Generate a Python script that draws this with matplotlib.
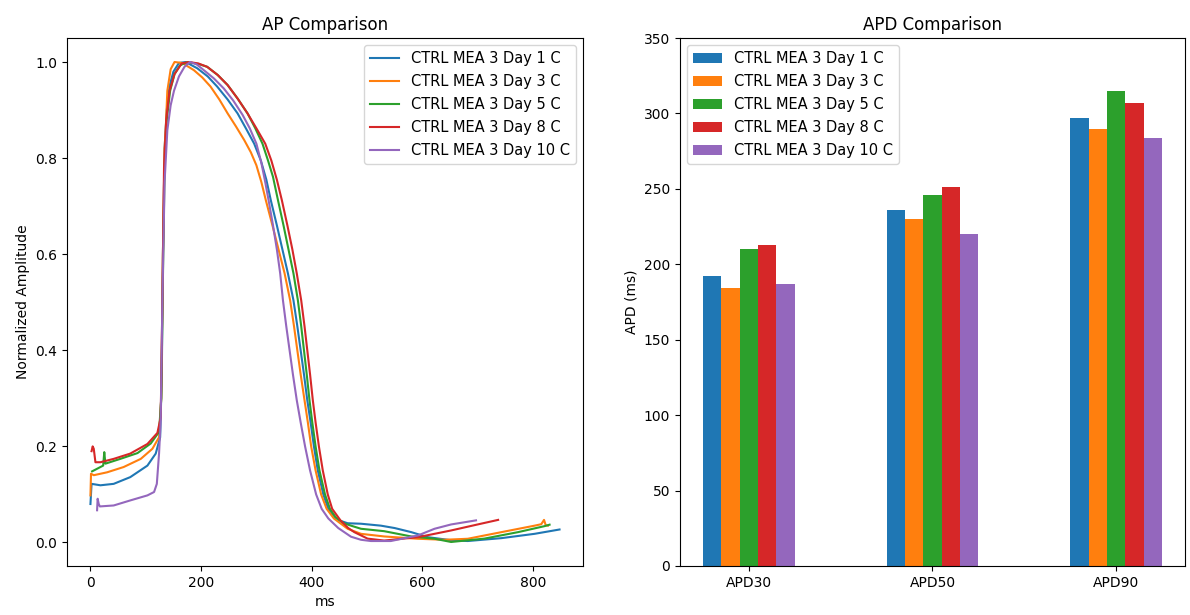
import numpy as np
import matplotlib
matplotlib.use("Agg")
import matplotlib.pyplot as plt

labels = ["CTRL MEA 3 Day 1 C", "CTRL MEA 3 Day 3 C", "CTRL MEA 3 Day 5 C",
          "CTRL MEA 3 Day 8 C", "CTRL MEA 3 Day 10 C"]

# Normalized action potential traces (time in ms, amplitude 0..1)
day1_t = [0, 2, 18, 42, 72, 103, 118, 126, 129, 131, 134, 138, 143, 150, 160, 172,
          193, 212, 229, 248, 266, 281, 296, 308, 318, 326, 337, 347, 357, 367, 374,
          380, 386, 392, 398, 404, 411, 421, 430, 440, 452, 465, 489, 525, 550, 580,
          610, 650, 682, 743, 803, 848]
day1_v = [0.08, 0.122, 0.119, 0.122, 0.136, 0.16, 0.185, 0.219, 0.35, 0.6, 0.82, 0.9,
          0.95, 0.98, 0.998, 1.0, 0.987, 0.97, 0.949, 0.922, 0.893, 0.862, 0.83, 0.795,
          0.755, 0.7125, 0.66, 0.61, 0.56, 0.504, 0.45, 0.4, 0.35, 0.296, 0.25, 0.2,
          0.15, 0.1, 0.07, 0.053, 0.045, 0.04, 0.039, 0.035, 0.03, 0.0215, 0.011,
          0.005, 0.003, 0.009, 0.018, 0.027]

day3_t = [0, 1, 6, 30, 60, 91, 112, 124, 128, 131, 134, 136, 139, 145, 152, 166, 187,
          202, 217, 233, 248, 263, 278, 290, 300, 309, 317, 329, 340, 351, 361, 368,
          374, 380, 387, 393, 399, 407, 417, 427, 440, 465, 489, 531, 592, 640, 682,
          743, 803, 815, 820, 823, 827]
day3_v = [0.098, 0.143, 0.14, 0.146, 0.157, 0.174, 0.195, 0.219, 0.3, 0.6, 0.82, 0.858,
          0.94, 0.985, 1.0, 0.998, 0.983, 0.968, 0.949, 0.922, 0.893, 0.866, 0.8375,
          0.812, 0.785, 0.75, 0.7125, 0.66, 0.61, 0.56, 0.504, 0.45, 0.4, 0.35, 0.296,
          0.25, 0.2, 0.15, 0.1, 0.07, 0.05, 0.0285, 0.018, 0.0125, 0.0077, 0.0056,
          0.0077, 0.0215, 0.035, 0.038, 0.047, 0.036, 0.035]

day5_t = [3, 18, 23, 25, 27, 54, 85, 109, 124, 128, 131, 134, 138, 144, 152, 162, 175,
          195, 211, 230, 248, 266, 284, 298, 311, 321, 330, 339, 349, 358, 367, 375,
          381, 386, 391, 396, 401, 407, 414, 424, 433, 443, 458, 471, 489, 531, 580,
          621, 652, 712, 773, 821, 830]
day5_v = [0.148, 0.157, 0.16, 0.188, 0.164, 0.174, 0.186, 0.206, 0.23, 0.3, 0.55, 0.78,
          0.88, 0.94, 0.975, 0.993, 1.0, 0.996, 0.99, 0.973, 0.952, 0.924, 0.893, 0.862,
          0.83, 0.795, 0.761, 0.7125, 0.66, 0.61, 0.56, 0.504, 0.45, 0.4, 0.35, 0.296,
          0.25, 0.2, 0.15, 0.1, 0.07, 0.053, 0.04, 0.035, 0.0285, 0.0235, 0.0125, 0.008,
          0.001, 0.008, 0.0215, 0.034, 0.037]

day8_t = [2, 4, 6, 9, 18, 42, 72, 103, 121, 127, 130, 133, 137, 143, 152, 165, 178,
          195, 211, 230, 248, 266, 284, 300, 316, 327, 337, 346, 356, 365, 373, 381,
          387, 392, 397, 402, 407, 413, 420, 429, 437, 452, 466, 477, 501, 531, 592,
          652, 700, 737]
day8_v = [0.19, 0.2, 0.195, 0.167, 0.167, 0.174, 0.185, 0.205, 0.228, 0.26, 0.5, 0.78,
          0.88, 0.94, 0.975, 0.997, 1.0, 0.997, 0.99, 0.973, 0.952, 0.924, 0.893, 0.862,
          0.83, 0.795, 0.755, 0.7125, 0.66, 0.61, 0.56, 0.504, 0.45, 0.4, 0.35, 0.296,
          0.25, 0.2, 0.15, 0.1, 0.07, 0.046, 0.03, 0.0215, 0.008, 0.004, 0.011, 0.025,
          0.0375, 0.047]

day10_t = [12, 13, 15, 17, 42, 72, 103, 115, 120, 124, 127, 130, 134, 139, 145, 151,
           160, 170, 180, 192, 205, 223, 241, 258, 275, 288, 300, 309, 316, 322, 330,
           337, 343, 348, 354, 360, 366, 373, 380, 388, 397, 408, 418, 430, 448, 471,
           489, 507, 543, 592, 622, 652, 697]
day10_v = [0.067, 0.091, 0.08, 0.075, 0.077, 0.0875, 0.098, 0.105, 0.122, 0.185, 0.254,
           0.5, 0.75, 0.858, 0.91, 0.94, 0.97, 0.99, 1.0, 0.995, 0.983, 0.966, 0.945,
           0.92, 0.89, 0.862, 0.83, 0.79, 0.75, 0.7125, 0.66, 0.61, 0.56, 0.504, 0.45,
           0.4, 0.35, 0.296, 0.25, 0.2, 0.15, 0.1, 0.07, 0.05, 0.03, 0.012, 0.0056,
           0.003, 0.003, 0.0146, 0.0285, 0.0375, 0.046]

# Action potential durations (ms)
apd_names = ["APD30", "APD50", "APD90"]
apd_day1 = [192, 236, 297]
apd_day3 = [184, 230, 290]
apd_day5 = [210, 246, 315]
apd_day8 = [213, 251, 307]
apd_day10 = [187, 220, 284]

traces = [(day1_t, day1_v), (day3_t, day3_v), (day5_t, day5_v),
          (day8_t, day8_v), (day10_t, day10_v)]
apds = [apd_day1, apd_day3, apd_day5, apd_day8, apd_day10]

fig = plt.figure(figsize=(11.9, 6.15), dpi=100)
ax1 = fig.add_axes([0.0563, 0.0797, 0.4336, 0.8585])
ax2 = fig.add_axes([0.5714, 0.0797, 0.4244, 0.8585])

for (t, v), lab in zip(traces, labels):
    ax1.plot(t, v, lw=1.5, label=lab)
ax1.set_title("AP Comparison")
ax1.set_xlabel("ms")
ax1.set_ylabel("Normalized Amplitude")
ax1.legend(loc="upper right", fontsize=10.5, labelspacing=0.55)

x = np.arange(len(apd_names))
width = 0.1
for i, (vals, lab) in enumerate(zip(apds, labels)):
    ax2.bar(x + (i - 2) * width, vals, width, label=lab)
ax2.set_xticks(x)
ax2.set_xticklabels(apd_names)
ax2.set_ylim(0, 350)
ax2.set_ylabel("APD (ms)")
ax2.set_title("APD Comparison")
ax2.legend(loc="upper left", fontsize=10.5, labelspacing=0.55)

fig.savefig("out.png", dpi=100)
